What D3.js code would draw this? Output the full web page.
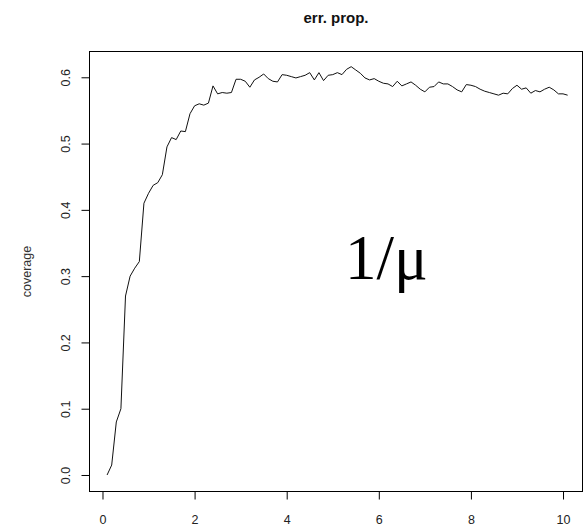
<!DOCTYPE html>
<html>
<head>
<meta charset="utf-8">
<script src="https://cdn.jsdelivr.net/npm/d3@7"></script>
<style>
  html, body { margin: 0; padding: 0; background: #fff; }
  svg { display: block; }
</style>
</head>
<body>
<script>
// ---- data ----
const chartTitle = "err. prop.";
const yLabel = "coverage";
const annotation = "1/\u03bc";
const xTicks = [0, 2, 4, 6, 8, 10];
const yTicks = [0.0, 0.1, 0.2, 0.3, 0.4, 0.5, 0.6];
const xValues = [
  0.1, 0.2, 0.3, 0.4, 0.5, 0.6, 0.7, 0.8, 0.9, 1.0,
  1.1, 1.2, 1.3, 1.4, 1.5, 1.6, 1.7, 1.8, 1.9, 2.0,
  2.1, 2.2, 2.3, 2.4, 2.5, 2.6, 2.7, 2.8, 2.9, 3.0,
  3.1, 3.2, 3.3, 3.4, 3.5, 3.6, 3.7, 3.8, 3.9, 4.0,
  4.1, 4.2, 4.3, 4.4, 4.5, 4.6, 4.7, 4.8, 4.9, 5.0,
  5.1, 5.2, 5.3, 5.4, 5.5, 5.6, 5.7, 5.8, 5.9, 6.0,
  6.1, 6.2, 6.3, 6.4, 6.5, 6.6, 6.7, 6.8, 6.9, 7.0,
  7.1, 7.2, 7.3, 7.4, 7.5, 7.6, 7.7, 7.8, 7.9, 8.0,
  8.1, 8.2, 8.3, 8.4, 8.5, 8.6, 8.7, 8.8, 8.9, 9.0,
  9.1, 9.2, 9.3, 9.4, 9.5, 9.6, 9.7, 9.8, 9.9, 10.0,
  10.1
];
const coverage = [
  0.000, 0.015, 0.080, 0.100, 0.270, 0.300, 0.312, 0.322, 0.410, 0.425,
  0.437, 0.441, 0.453, 0.495, 0.509, 0.506, 0.519, 0.518, 0.545, 0.557,
  0.560, 0.558, 0.561, 0.587, 0.575, 0.577, 0.576, 0.577, 0.597, 0.597,
  0.594, 0.585, 0.596, 0.600, 0.605, 0.598, 0.594, 0.593, 0.604, 0.603,
  0.601, 0.599, 0.601, 0.603, 0.607, 0.596, 0.607, 0.595, 0.603, 0.604,
  0.607, 0.604, 0.612, 0.616, 0.611, 0.606, 0.599, 0.596, 0.598, 0.594,
  0.591, 0.590, 0.586, 0.594, 0.587, 0.590, 0.593, 0.588, 0.582, 0.578,
  0.585, 0.586, 0.593, 0.590, 0.590, 0.586, 0.581, 0.578, 0.589, 0.588,
  0.586, 0.582, 0.579, 0.577, 0.575, 0.573, 0.576, 0.575, 0.583, 0.588,
  0.582, 0.584, 0.576, 0.580, 0.578, 0.582, 0.585, 0.581, 0.575, 0.575,
  0.573
];

// ---- layout ----
const W = 586, H = 529;
const box = { left: 89.5, right: 582.5, top: 51.5, bottom: 491.5 };

const svg = d3.select("body").append("svg")
  .attr("width", W).attr("height", H);

const x = d3.scaleLinear().domain([-0.282, 10.423]).range([box.left, box.right]);
const y = d3.scaleLinear().domain([-0.0249, 0.6389]).range([box.bottom, box.top]);

const labelFont = "Liberation Sans, Arial, sans-serif";

// title
svg.append("text")
  .attr("x", (box.left + box.right) / 2)
  .attr("y", 23)
  .attr("text-anchor", "middle")
  .attr("font-family", labelFont)
  .attr("font-weight", "bold")
  .attr("font-size", 15)
  .attr("fill", "#111")
  .text(chartTitle);

// box
svg.append("rect")
  .attr("x", box.left).attr("y", box.top)
  .attr("width", box.right - box.left).attr("height", box.bottom - box.top)
  .attr("fill", "none").attr("stroke", "#000").attr("stroke-width", 1);

// x axis
const gx = svg.append("g")
  .attr("transform", `translate(0,${box.bottom})`)
  .call(d3.axisBottom(x).tickValues(xTicks).tickFormat(d3.format("d")).tickSize(8).tickPadding(16));
gx.select(".domain").remove();
gx.selectAll("line").attr("stroke", "#000");
gx.selectAll("text").attr("font-family", labelFont).attr("font-size", 12.5).attr("fill", "#222");

// y axis
const gy = svg.append("g")
  .attr("transform", `translate(${box.left},0)`)
  .call(d3.axisLeft(y).tickValues(yTicks).tickFormat(d3.format(".1f")).tickSize(8));
gy.select(".domain").remove();
gy.selectAll("line").attr("stroke", "#000");
gy.selectAll("text")
  .attr("x", null).attr("dy", null)
  .attr("transform", "translate(-20,0) rotate(-90)")
  .attr("text-anchor", "middle")
  .attr("font-family", labelFont).attr("font-size", 12.5).attr("fill", "#222");

// y label
svg.append("text")
  .attr("transform", `translate(30.5,${(box.top + box.bottom) / 2}) rotate(-90)`)
  .attr("text-anchor", "middle")
  .attr("font-family", labelFont)
  .attr("font-size", 12.5)
  .attr("fill", "#333")
  .text(yLabel);

// line
const pts = xValues.map((v, i) => [v, coverage[i]]);
svg.append("path")
  .datum(pts)
  .attr("fill", "none")
  .attr("stroke", "#111")
  .attr("stroke-width", 1)
  .attr("d", d3.line().x(d => x(d[0])).y(d => y(d[1])));

// annotation
svg.append("text")
  .attr("x", 345)
  .attr("y", 279)
  .attr("font-family", "Liberation Serif, Times New Roman, serif")
  .attr("font-size", 63)
  .attr("fill", "#000")
  .text(annotation);
</script>
</body>
</html>
